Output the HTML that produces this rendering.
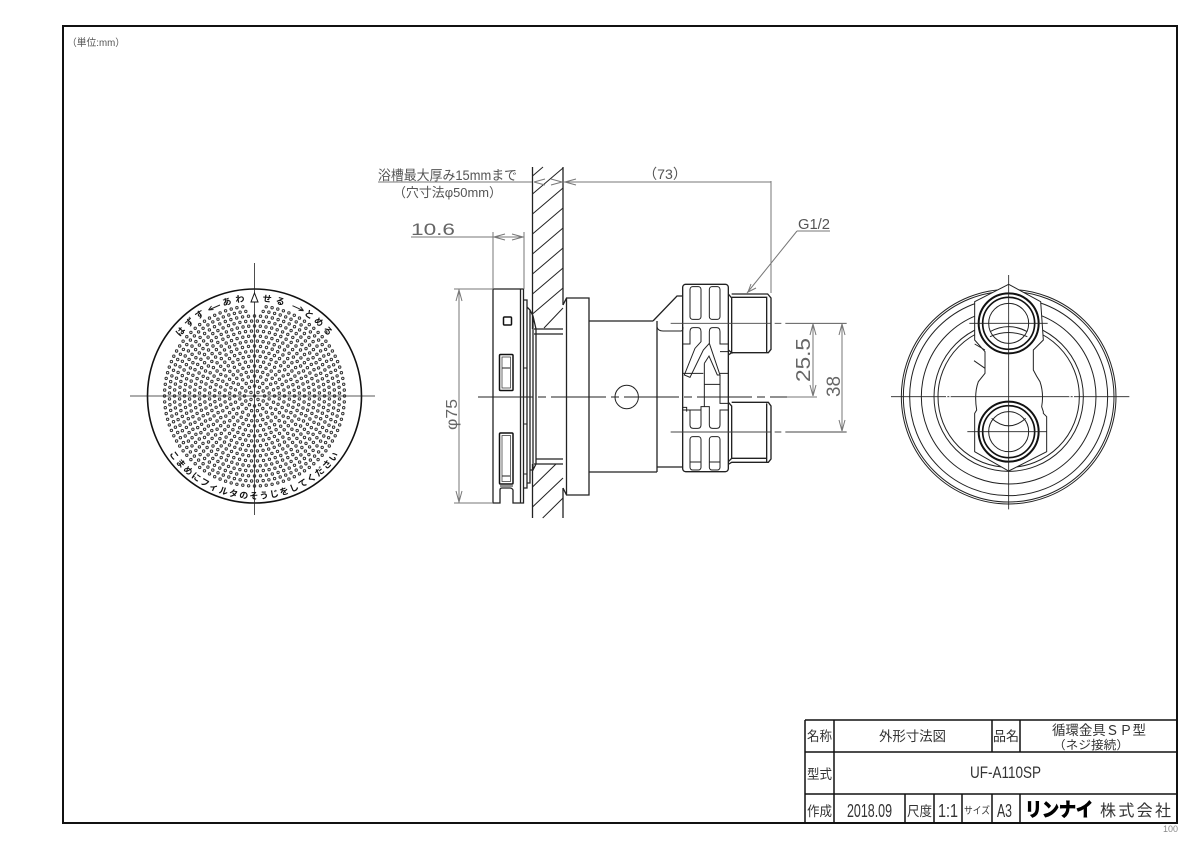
<!DOCTYPE html>
<html lang="ja"><head><meta charset="utf-8"><title>UF-A110SP</title>
<style>
html,body{margin:0;padding:0;background:#fff}
svg{display:block}
text{font-family:"Liberation Sans","Noto Sans CJK JP",sans-serif;fill:#333}
.l{fill:none;stroke:#222;stroke-width:1}
.g{fill:none;stroke:#777;stroke-width:1}
.z{fill:none;stroke:#222;stroke-width:3}
.zb{fill:none;stroke:#111;stroke-width:5}
</style></head><body>
<svg xmlns="http://www.w3.org/2000/svg" width="1200" height="849" viewBox="0 0 1200 849">
<rect width="1200" height="849" fill="#fff"/>
<rect x="63" y="26" width="1114" height="797" fill="none" stroke="#111" stroke-width="2"/>
<text x="67" y="46" font-size="10" textLength="58" lengthAdjust="spacingAndGlyphs" style="fill:#555">&#xFF08;単位:mm&#xFF09;</text>
<text x="1163" y="832" font-size="9" textLength="15" lengthAdjust="spacingAndGlyphs" style="fill:#888">100</text>

<!-- left view -->
<g id="dots" fill="none" stroke="#333" stroke-width="1"></g>
<circle cx="254.5" cy="396" r="107" fill="none" stroke="#111" stroke-width="1.6"/>
<path class="l" style="stroke-width:.8" d="M130 396H375M254.5 263V515"/>
<defs>
<path id="arcT" d="M159.5 396A95 95 0 0 1 349.5 396"/>
<path id="arcB" d="M151.5 396A103 103 0 0 0 357.5 396"/>
</defs>
<g font-size="9" font-weight="bold">
<text style="fill:#111"><textPath href="#arcT" startOffset="27.5%" text-anchor="middle" letter-spacing="3.4">はずす</textPath></text>
<text style="fill:#111"><textPath href="#arcT" startOffset="43.7%" text-anchor="middle" letter-spacing="4">あわ</textPath></text>
<text style="fill:#111"><textPath href="#arcT" startOffset="57%" text-anchor="middle" letter-spacing="4">せる</textPath></text>
<text style="fill:#111"><textPath href="#arcT" startOffset="73.3%" text-anchor="middle" letter-spacing="3">とめる</textPath></text>
<text style="fill:#111"><textPath href="#arcB" startOffset="50%" text-anchor="middle" letter-spacing="1.6">こまめにフィルタのそうじをしてください</textPath></text>
</g>
<path class="l" d="M208.5 310L220 305M208.5 310l5-.5M208.5 310l3-4M292.5 305.7L303.5 310.7M303.5 310.7l-5-.5M303.5 310.7l-3-4"/>
<path d="M254.5 293L258 302H251Z" fill="#fff" stroke="#111" stroke-width="1"/>

<!-- wall -->
<path class="l" style="stroke-width:1.3" d="M532.5 167V329M563 167V305M532.5 464V518M563 488V518M534 329H563M534 334H563M536 459H563M534 464H563"/>
<path class="l" d="M532.5 176L543 167M532.5 194L563 168M532.5 214L563 188M532.5 234L563 208M532.5 254L563 228M532.5 274L563 248M532.5 294L563 268M532.5 314L563 288M544 328L563 308M532.5 487L556 464M532.5 507L563 478M542.7 518L563 498"/>

<!-- flange -->
<path class="l" style="stroke-width:1.3" d="M493 289H520.5V503H513V490Q512 488 510 488H502Q500 488 500 490V503H493ZM520.5 289H523.5V503H520.5M523.5 300H527V488H523.5M527 307L530 310V483H527M530 310L533 316V470H530M533 316L536 329V464L533 470"/>
<path class="l" d="M524 368h3M524 424h3M524 474h3"/>
<rect x="503.5" y="317" width="8" height="8" rx="1" fill="none" stroke="#111" stroke-width="1.5"/>
<rect x="499.5" y="354.5" width="13.5" height="36" rx="1" fill="none" stroke="#111" stroke-width="1.5"/>
<rect x="502" y="357" width="8.5" height="31" fill="none" stroke="#444" stroke-width=".8"/>
<path class="l" d="M502 368H510"/>
<rect x="499.5" y="433" width="13.5" height="51" rx="1" fill="none" stroke="#111" stroke-width="1.5"/>
<rect x="502" y="435.5" width="8.5" height="46" fill="none" stroke="#444" stroke-width=".8"/>
<path class="l" d="M502 476H510M500 486H513"/>
<!-- nut and body -->
<path class="l" style="stroke-width:1.3" d="M563 305L566.5 298H589V495H566.5L563 488M566.5 298V495M589 321H653M589 472H657M657 321V472M653 321L677 296H683M657 467H683"/>
<path class="l" d="M657 327Q658 331 663 331H681Q683 331 683 327"/>
<circle cx="626.7" cy="397" r="11.7" class="l"/>

<!-- lug & nipples -->
<g transform="translate(640,200) scale(.33333)">
<rect class="z" x="128" y="253" width="137" height="562" rx="9" style="stroke-width:4"/>
<rect class="z" x="150" y="260" width="33" height="98" rx="8"/>
<rect class="z" x="208" y="260" width="32" height="98" rx="8"/>
<rect class="z" x="150" y="710" width="33" height="100" rx="8"/>
<rect class="z" x="208" y="710" width="32" height="100" rx="8"/>
<path class="z" d="M150 786H183M208 786H240"/>
<path class="z" d="M128 432H150V395Q150 383 160 383H173Q183 383 183 395V425L165 445L133 525L150 532L190 450L208 430V395Q208 383 218 383H230Q240 383 240 395V432H265M240 455H265M208 430L240 525L232 525L207 468L193 490"/>
<path class="z" d="M128 520H190M240 520H265M193 490V620M193 553H240M240 525V610H265M193 620H183V630H150V675Q150 685 160 685H173Q183 685 183 675V630M128 630H150M128 622H140V635M193 620H208V675Q208 685 218 685H230Q240 685 240 675V630H265"/>
<path class="z" style="stroke-width:4" d="M265 282L275 294V458L265 450M275 282H383L393 294V448L385 458H275L265 465M275 292H380V458"/>
<path class="z" style="stroke-width:4" d="M265 607L275 618V775L265 785M275 607H385L393 618V777L385 787H275L265 793M275 775H380M380 610V787"/>
<path class="z" d="M92 370H620M92 696H620" style="stroke-width:2.7;stroke-dasharray:300 12 20 12;stroke:#444"/>
</g>

<!-- right view -->
<g transform="translate(890,270) scale(.33333)">
<circle class="z" cx="356" cy="380" r="322"/>
<circle class="z" cx="356" cy="380" r="316"/>
<circle class="z" cx="356" cy="380" r="297"/>
<circle class="z" cx="356" cy="380" r="262"/>
<circle class="z" cx="356" cy="380" r="224"/>
<circle class="z" cx="356" cy="380" r="212"/>
<path d="M356 43L452 95L460 210L430 240V300Q440 320 450 335Q462 370 455 410L460 425V430L470 440V545L356 603L254 545V430L260 420Q252 370 265 335L285 310V245L254 210V95Z" fill="#fff" stroke="#222" stroke-width="3"/>
<path d="M254 222L285 240M252 272L285 295" class="z"/>
<circle cx="356" cy="160" r="90" class="zb" style="stroke-width:6"/>
<circle cx="356" cy="160" r="78" class="zb"/>
<circle cx="356" cy="160" r="60" class="z"/>
<circle cx="356" cy="485" r="90" class="zb" style="stroke-width:6"/>
<circle cx="356" cy="485" r="78" class="zb"/>
<circle cx="356" cy="485" r="60" class="z"/>
<path class="z" d="M300 185Q356 155 412 185M300 200Q356 175 412 200M305 445Q356 490 407 445"/>
<path class="z" style="stroke-width:2.5" d="M3 380H718M356 15V718M238 160H473M232 485H470"/>
<path stroke="#fff" stroke-width="4" d="M170 378V382M180 378V382M540 378V382M550 378V382"/>
</g>

<!-- center line -->
<path class="l" style="stroke-dasharray:55 5 8 5" d="M478 397H787"/>
<path class="g" d="M787 397H817"/>

<!-- dimensions -->
<g>
<path class="g" d="M378 182H532M563 182H771M771 181V293M493 232V289M524 232V289M411 237H524M454 289H493M454 503H493M459 289V503M797 231H830M797 231L747 293"/>
<path class="g" d="M534 182l11-3M534 182l11 3M562 182l-11-3M562 182l-11 3M565 182l11-3M565 182l11 3M494 237l11-3M494 237l11 3M523 237l-11-3M523 237l-11 3M459 290l-3 11M459 290l3 11M459 502l-3-11M459 502l3-11M748 292l8-4M748 292l3-8"/>
<path class="g" d="M813 324l-3 11M813 324l3 11M813 396l-3-11M813 396l3-11M842 324l-3 11M842 324l3 11M842 431l-3-11M842 431l3-11M813 324V396M842 324V431"/>
<text x="378" y="180" font-size="13.5" textLength="139" lengthAdjust="spacingAndGlyphs" style="fill:#555">浴槽最大厚み15mmまで</text>
<text x="393" y="197" font-size="13" textLength="109" lengthAdjust="spacingAndGlyphs" style="fill:#555">&#xFF08;穴寸法φ50mm&#xFF09;</text>
<text x="411" y="235" font-size="17" textLength="44" lengthAdjust="spacingAndGlyphs" style="fill:#666">10.6</text>
<text x="643" y="179" font-size="14" textLength="44" lengthAdjust="spacingAndGlyphs" style="fill:#555">&#xFF08;73&#xFF09;</text>
<text x="798" y="229" font-size="15" textLength="32" lengthAdjust="spacingAndGlyphs" style="fill:#555">G1/2</text>
<text transform="translate(457,430) rotate(-90)" font-size="16" textLength="31" lengthAdjust="spacingAndGlyphs" style="fill:#666">φ75</text>
<text transform="translate(810,382) rotate(-90)" font-size="20" textLength="44" lengthAdjust="spacingAndGlyphs" style="fill:#666">25.5</text>
<text transform="translate(840,397) rotate(-90)" font-size="19" textLength="21" lengthAdjust="spacingAndGlyphs" style="fill:#666">38</text>
</g>

<!-- title block -->
<g>
<path fill="none" stroke="#111" stroke-width="1.5" d="M805 720H1177M805 752H1177M805 794H1177M805 720V823M834 720V823M992 720V752M1020 720V752M905 794V823M934 794V823M962 794V823M992 794V823M1020 794V823"/>
<g font-size="13.5">
<text x="807" y="741" textLength="25" lengthAdjust="spacingAndGlyphs">名称</text>
<text x="879" y="741" textLength="67" lengthAdjust="spacing">外形寸法図</text>
<text x="993" y="741" textLength="26" lengthAdjust="spacingAndGlyphs">品名</text>
<text x="1052" y="735" textLength="94" lengthAdjust="spacing">循環金具&#xFF33;&#xFF30;型</text>
<text x="1053" y="749" font-size="12" textLength="76" lengthAdjust="spacingAndGlyphs">&#xFF08;ネジ接続&#xFF09;</text>
<text x="807" y="779" textLength="25" lengthAdjust="spacingAndGlyphs">型式</text>
<text x="970" y="778" font-size="17" textLength="71" lengthAdjust="spacingAndGlyphs">UF-A110SP</text>
<text x="807" y="816" textLength="25" lengthAdjust="spacingAndGlyphs">作成</text>
<text x="847" y="817" font-size="18" textLength="45" lengthAdjust="spacingAndGlyphs">2018.09</text>
<text x="907" y="816" textLength="25" lengthAdjust="spacingAndGlyphs">尺度</text>
<text x="938" y="817" font-size="18" textLength="20" lengthAdjust="spacingAndGlyphs">1:1</text>
<text x="964" y="814" font-size="10" textLength="26" lengthAdjust="spacingAndGlyphs">サイズ</text>
<text x="997" y="817" font-size="18" textLength="15" lengthAdjust="spacingAndGlyphs">A3</text>
<text x="1025" y="816" font-size="19" font-weight="bold" textLength="68" lengthAdjust="spacingAndGlyphs" style="fill:#000;stroke:#000;stroke-width:1">リンナイ</text>
<text x="1100" y="816" font-size="16" textLength="71" lengthAdjust="spacing">株式会社</text>
</g>
</g>
</svg>
<script>
(function(){
var g=document.getElementById('dots'),s='',cx=254.5,cy=396;
s+='<circle cx="'+cx+'" cy="'+cy+'" r="1.2"/>';
for(var k=1;k<=18;k++){
  var r=k*5,n=Math.round(2*Math.PI*r/5.9/4)*4;
  if(n<4)n=4;
  var off=(k%2)?Math.PI/n:0;
  for(var i=0;i<n;i++){
    var a=2*Math.PI*i/n+off,x=cx+r*Math.sin(a),y=cy-r*Math.cos(a);
    if(k>=17&&Math.abs(x-cx)<6&&y<cy)continue;
    s+='<circle cx="'+x.toFixed(1)+'" cy="'+y.toFixed(1)+'" r="1.2"/>';
  }
}
g.innerHTML=s;
})();
</script>
</body></html>
